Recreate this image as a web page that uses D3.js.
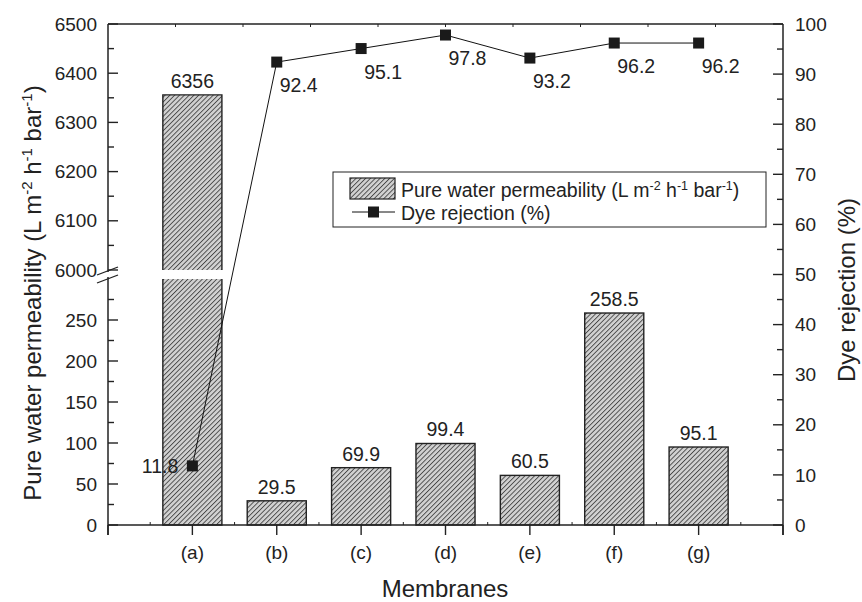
<!DOCTYPE html>
<html><head><meta charset="utf-8">
<script src="https://cdn.jsdelivr.net/npm/d3@7/dist/d3.min.js"></script>
<style>
body{margin:0;background:#fff;}
text{font-family:"Liberation Sans",Arial,sans-serif;fill:#222;}
</style></head>
<body><svg id="c" width="862" height="602"></svg>
<script>
const categories = ["(a)","(b)","(c)","(d)","(e)","(f)","(g)"];
const permeability = [6356, 29.5, 69.9, 99.4, 60.5, 258.5, 95.1];
const rejection = [11.8, 92.4, 95.1, 97.8, 93.2, 96.2, 96.2];
const lowTicks = [0, 50, 100, 150, 200, 250];
const highTicks = [6000, 6100, 6200, 6300, 6400, 6500];
const rightTicks = [0,10,20,30,40,50,60,70,80,90,100];

const svg = d3.select("#c");
const L = 108, R = 783, T = 24, B = 525;
const x = d3.scaleLinear().domain([0, 8]).range([L, R]);
const yLow = d3.scaleLinear().domain([0, 300]).range([B, 279]);
const yHigh = d3.scaleLinear().domain([6000, 6500]).range([270, T]);
const yR = d3.scaleLinear().domain([0, 100]).range([B, T]);
const ink = "#222";
const fs = 19, vfs = 19.5;

const defs = svg.append("defs");
const pat = defs.append("pattern").attr("id","hatch").attr("patternUnits","userSpaceOnUse")
  .attr("width",3.4).attr("height",3.4).attr("patternTransform","rotate(45)");
pat.append("rect").attr("width",3.4).attr("height",3.4).attr("fill","#d2d2d2");
pat.append("line").attr("x1",0.5).attr("y1",0).attr("x2",0.5).attr("y2",3.4)
  .attr("stroke","#3a3a3a").attr("stroke-width",0.85);

const bw = 0.7;
categories.forEach((c,i)=>{
  const v = permeability[i];
  const cx = x(i+1), w = x(bw)-x(0);
  if (v > 300) {
    svg.append("rect").attr("x",cx-w/2).attr("y",yLow(300)).attr("width",w).attr("height",B-yLow(300))
      .attr("fill","url(#hatch)");
    svg.append("rect").attr("x",cx-w/2).attr("y",yHigh(v)).attr("width",w).attr("height",yHigh(6000)-yHigh(v))
      .attr("fill","url(#hatch)");
    svg.append("path").attr("d",`M${cx-w/2},${yLow(300)}V${B}H${cx+w/2}V${yLow(300)}`)
      .attr("fill","none").attr("stroke",ink).attr("stroke-width",1.4);
    svg.append("path").attr("d",`M${cx-w/2},${yHigh(6000)}V${yHigh(v)}H${cx+w/2}V${yHigh(6000)}`)
      .attr("fill","none").attr("stroke",ink).attr("stroke-width",1.4);
  } else {
    svg.append("rect").attr("x",cx-w/2).attr("y",yLow(v)).attr("width",w).attr("height",B-yLow(v))
      .attr("fill","url(#hatch)").attr("stroke",ink).attr("stroke-width",1.4);
  }
  const ty = v > 300 ? yHigh(v) : yLow(v);
  svg.append("text").attr("x",cx).attr("y",ty-7).attr("text-anchor","middle")
    .attr("font-size",vfs).text(String(v));
});

const ax = svg.append("g").attr("stroke",ink).attr("stroke-width",1.5).attr("fill","none");
ax.append("line").attr("x1",L).attr("x2",R).attr("y1",T).attr("y2",T);
ax.append("line").attr("x1",L).attr("x2",R).attr("y1",B).attr("y2",B);
ax.append("line").attr("x1",L).attr("x2",L).attr("y1",T).attr("y2",yHigh(6000)+2);
ax.append("line").attr("x1",L).attr("x2",L).attr("y1",yLow(300)-2).attr("y2",B+10);
ax.append("line").attr("x1",R).attr("x2",R).attr("y1",T).attr("y2",B+10);
ax.append("line").attr("x1",L-11).attr("y1",yHigh(6000)+5).attr("x2",L+10).attr("y2",yHigh(6000)-3).attr("stroke-width",1.3);
ax.append("line").attr("x1",L-11).attr("y1",yLow(300)+4).attr("x2",L+10).attr("y2",yLow(300)-4).attr("stroke-width",1.3);

const leftAx = svg.append("g").attr("stroke",ink).attr("stroke-width",1.4);
function leftTicks(scale, majors, minorStep, maxV){
  majors.forEach(t=>{
    leftAx.append("line").attr("x1",L).attr("x2",L+10).attr("y1",scale(t)).attr("y2",scale(t));
    svg.append("text").attr("x",L-11).attr("y",scale(t)).attr("dy","0.35em").attr("text-anchor","end")
      .attr("font-size",fs).text(t);
  });
  d3.range(majors[0]+minorStep, maxV, minorStep*2).forEach(t=>{
    leftAx.append("line").attr("x1",L).attr("x2",L+6).attr("y1",scale(t)).attr("y2",scale(t));
  });
}
leftTicks(yLow, lowTicks, 25, 300);
leftTicks(yHigh, highTicks, 50, 6500);

const rAx = svg.append("g").attr("stroke",ink).attr("stroke-width",1.4);
rightTicks.forEach(t=>{
  rAx.append("line").attr("x1",R-10).attr("x2",R).attr("y1",yR(t)).attr("y2",yR(t));
  svg.append("text").attr("x",R+12).attr("y",yR(t)).attr("dy","0.35em").attr("text-anchor","start")
    .attr("font-size",fs).text(t);
});
d3.range(5,100,10).forEach(t=>{
  rAx.append("line").attr("x1",R-6).attr("x2",R).attr("y1",yR(t)).attr("y2",yR(t));
});

const bAx = svg.append("g").attr("stroke",ink).attr("stroke-width",1.4);
d3.range(0,9).forEach(t=>{
  bAx.append("line").attr("x1",x(t)).attr("x2",x(t)).attr("y1",B).attr("y2",B+10);
});
d3.range(0.5,8,1).forEach(t=>{
  bAx.append("line").attr("x1",x(t)).attr("x2",x(t)).attr("y1",B).attr("y2",B-3).attr("stroke-width",1);
});
categories.forEach((c,i)=>{
  svg.append("text").attr("x",x(i+1)).attr("y",559).attr("text-anchor","middle").attr("font-size",fs).text(c);
});
const xt = d3.scaleLinear().domain([0,10]).range([L,R]);
d3.range(1,10).forEach(t=>{
  bAx.append("line").attr("x1",xt(t)).attr("x2",xt(t)).attr("y1",T).attr("y2",T+3).attr("stroke-width",1);
});

const line = d3.line().x((d,i)=>x(i+1)).y(d=>yR(d));
svg.append("path").datum(rejection).attr("d",line).attr("fill","none").attr("stroke","#111").attr("stroke-width",1);
rejection.forEach((v,i)=>{
  svg.append("rect").attr("x",x(i+1)-5.5).attr("y",yR(v)-5.5).attr("width",11).attr("height",11).attr("fill","#1a1a1a");
  if (i===0) {
    svg.append("text").attr("x",x(i+1)-14).attr("y",yR(v)).attr("dy","0.35em").attr("text-anchor","end")
      .attr("font-size",vfs).text(v);
  } else {
    svg.append("text").attr("x",x(i+1)+22).attr("y",yR(v)+30).attr("text-anchor","middle")
      .attr("font-size",vfs).text(v.toFixed(1));
  }
});

const lg = svg.append("g");
lg.append("rect").attr("x",333).attr("y",172).attr("width",433).attr("height",55)
  .attr("fill","#fff").attr("stroke",ink).attr("stroke-width",1);
lg.append("rect").attr("x",350).attr("y",178).attr("width",45).attr("height",21)
  .attr("fill","url(#hatch)").attr("stroke",ink).attr("stroke-width",1.2);
const lfs = 19.5, sfs = 12.5;
const lt1 = lg.append("text").attr("x",401).attr("y",197).attr("font-size",lfs);
lt1.append("tspan").text("Pure water permeability (L m");
lt1.append("tspan").attr("dy",-7).attr("font-size",sfs).text("-2");
lt1.append("tspan").attr("dy",7).text(" h");
lt1.append("tspan").attr("dy",-7).attr("font-size",sfs).text("-1");
lt1.append("tspan").attr("dy",7).text(" bar");
lt1.append("tspan").attr("dy",-7).attr("font-size",sfs).text("-1");
lt1.append("tspan").attr("dy",7).text(")");
lg.append("line").attr("x1",352).attr("x2",395).attr("y1",212).attr("y2",212).attr("stroke","#111").attr("stroke-width",1);
lg.append("rect").attr("x",368).attr("y",206.5).attr("width",11).attr("height",11).attr("fill","#1a1a1a");
lg.append("text").attr("x",401).attr("y",220).attr("font-size",lfs).text("Dye rejection (%)");

const tfs = 24;
const yt = svg.append("text").attr("transform","translate(41,293) rotate(-90)").attr("text-anchor","middle").attr("font-size",tfs);
yt.append("tspan").text("Pure water permeability (L m");
yt.append("tspan").attr("dy",-9).attr("font-size",15).text("-2");
yt.append("tspan").attr("dy",9).text(" h");
yt.append("tspan").attr("dy",-9).attr("font-size",15).text("-1");
yt.append("tspan").attr("dy",9).text(" bar");
yt.append("tspan").attr("dy",-9).attr("font-size",15).text("-1");
yt.append("tspan").attr("dy",9).text(")");
svg.append("text").attr("transform","translate(855,290) rotate(-90)").attr("text-anchor","middle").attr("font-size",tfs).text("Dye rejection (%)");
svg.append("text").attr("x",445).attr("y",597).attr("text-anchor","middle").attr("font-size",tfs).text("Membranes");
</script></body></html>
